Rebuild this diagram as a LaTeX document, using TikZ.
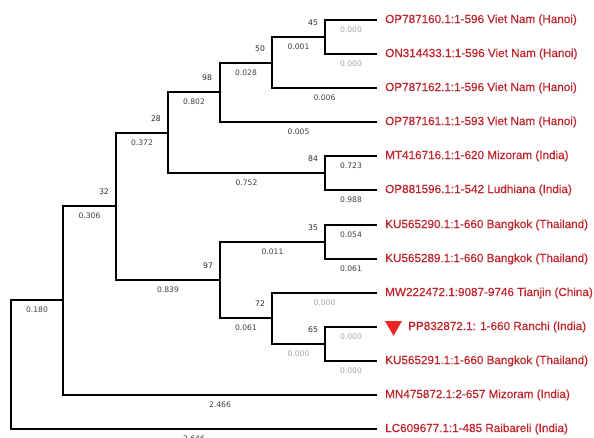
\documentclass[tikz,border=0pt]{standalone}
\usepackage{fontspec}
\setmainfont{Liberation Sans}
\newfontfamily\leaffont{Liberation Sans}[FakeBold=0.5]
\newfontfamily\smallf{DejaVu Sans}
\usetikzlibrary{shapes.geometric}
\definecolor{leafred}{RGB}{190,38,44}
\definecolor{trired}{RGB}{236,36,36}
\definecolor{bsgray}{RGB}{45,45,45}
\definecolor{blgray}{RGB}{65,65,65}
\definecolor{zgray}{RGB}{165,165,165}
\begin{document}
\begin{tikzpicture}[x=1pt,y=-1pt,
  br/.style={line width=2pt, line join=miter},
  leaf/.style={anchor=west, text=leafred, font=\leaffont\fontsize{11.7}{13}\selectfont, inner sep=0pt},
  bs/.style={font=\smallf\fontsize{7.7}{9}\selectfont, text=bsgray, inner sep=0pt},
  bl/.style={font=\smallf\fontsize{7.6}{9}\selectfont, text=blgray, inner sep=0pt, pos=0.75, yshift=-10pt},
  bz/.style={bl, text=zgray},
  tri/.style={regular polygon, regular polygon sides=3, shape border rotate=180, fill=trired, minimum size=19.5pt, inner sep=0pt}]
\fill[white] (0,0) rectangle (594,438);
\useasboundingbox (0,0) rectangle (594,438);
% leaf ends
\coordinate (l1) at (377,20);
\coordinate (l2) at (377,54);
\coordinate (l3) at (377,88);
\coordinate (l4) at (377,122);
\coordinate (l5) at (377,156);
\coordinate (l6) at (377,190);
\coordinate (l7) at (377,225);
\coordinate (l8) at (377,259);
\coordinate (l9) at (377,293);
\coordinate (l10) at (377,327);
\coordinate (l11) at (377,361);
\coordinate (l12) at (377,395);
\coordinate (l13) at (377,429);
% internal nodes
\coordinate (G) at (325,37);
\coordinate (F) at (272,63);
\coordinate (D) at (220,92);
\coordinate (H) at (325,173);
\coordinate (C) at (168,133);
\coordinate (I) at (325,242);
\coordinate (K) at (325,344);
\coordinate (J) at (272,318);
\coordinate (E) at (220,280);
\coordinate (B) at (116,206);
\coordinate (A) at (63,300);
\coordinate (R) at (11,364);
% branches
\draw[br] (G) |- (l1) node[bz] {0.000};
\draw[br] (G) |- (l2) node[bz] {0.000};
\draw[br] (F) |- (G) node[bl] {0.001};
\draw[br] (F) |- (l3) node[bl] {0.006};
\draw[br] (D) |- (F) node[bl] {0.028};
\draw[br] (D) |- (l4) node[bl] {0.005};
\draw[br] (H) |- (l5) node[bl] {0.723};
\draw[br] (H) |- (l6) node[bl] {0.988};
\draw[br] (C) |- (D) node[bl] {0.802};
\draw[br] (C) |- (H) node[bl] {0.752};
\draw[br] (I) |- (l7) node[bl] {0.054};
\draw[br] (I) |- (l8) node[bl] {0.061};
\draw[br] (K) |- (l10) node[bz] {0.000};
\draw[br] (K) |- (l11) node[bz] {0.000};
\draw[br] (J) |- (l9) node[bz] {0.000};
\draw[br] (J) |- (K) node[bz] {0.000};
\draw[br] (E) |- (I) node[bl] {0.011};
\draw[br] (E) |- (J) node[bl] {0.061};
\draw[br] (B) |- (C) node[bl] {0.372};
\draw[br] (B) |- (E) node[bl] {0.839};
\draw[br] (A) |- (B) node[bl] {0.306};
\draw[br] (A) |- (l12) node[bl] {2.466};
\draw[br] (R) |- (A) node[bl] {0.180};
\draw[br] (R) |- (l13) node[bl, yshift=0.5pt] {2.646};
% bootstrap values
\node[bs] (bG) at ([xshift=-12pt,yshift=14pt]G) {45};
\node[bs] (bF) at ([xshift=-12pt,yshift=14pt]F) {50};
\node[bs] (bD) at ([xshift=-13pt,yshift=14pt]D) {98};
\node[bs] (bH) at ([xshift=-12pt,yshift=14pt]H) {84};
\node[bs] (bC) at ([xshift=-12pt,yshift=14pt]C) {28};
\node[bs] (bI) at ([xshift=-12pt,yshift=14pt]I) {35};
\node[bs] (bK) at ([xshift=-12pt,yshift=14pt]K) {65};
\node[bs] (bJ) at ([xshift=-12pt,yshift=14pt]J) {72};
\node[bs] (bE) at ([xshift=-12pt,yshift=14pt]E) {97};
\node[bs] (bB) at ([xshift=-12pt,yshift=14pt]B) {32};
% leaf labels
\node[leaf] (t1) at (385,20) {OP787160.1:1-596 Viet Nam (Hanoi)};
\node[leaf] (t2) at (385,54) {ON314433.1:1-596 Viet Nam (Hanoi)};
\node[leaf] (t3) at (385,88) {OP787162.1:1-596 Viet Nam (Hanoi)};
\node[leaf] (t4) at (385,122) {OP787161.1:1-593 Viet Nam (Hanoi)};
\node[leaf] (t5) at (385,156) {MT416716.1:1-620 Mizoram (India)};
\node[leaf] (t6) at (385,190) {OP881596.1:1-542 Ludhiana (India)};
\node[leaf] (t7) at (385,225) {KU565290.1:1-660 Bangkok (Thailand)};
\node[leaf] (t8) at (385,259) {KU565289.1:1-660 Bangkok (Thailand)};
\node[leaf] (t9) at (385,293) {MW222472.1:9087-9746 Tianjin (China)};
\node[tri] (mk) at (393.5,326) {};
\node[leaf] (t10) at (408,327) {PP832872.1: 1-660 Ranchi (India)};
\node[leaf] (t11) at (385,361) {KU565291.1:1-660 Bangkok (Thailand)};
\node[leaf] (t12) at (385,395) {MN475872.1:2-657 Mizoram (India)};
\node[leaf] (t13) at (385,429) {LC609677.1:1-485 Raibareli (India)};
\end{tikzpicture}
\end{document}
